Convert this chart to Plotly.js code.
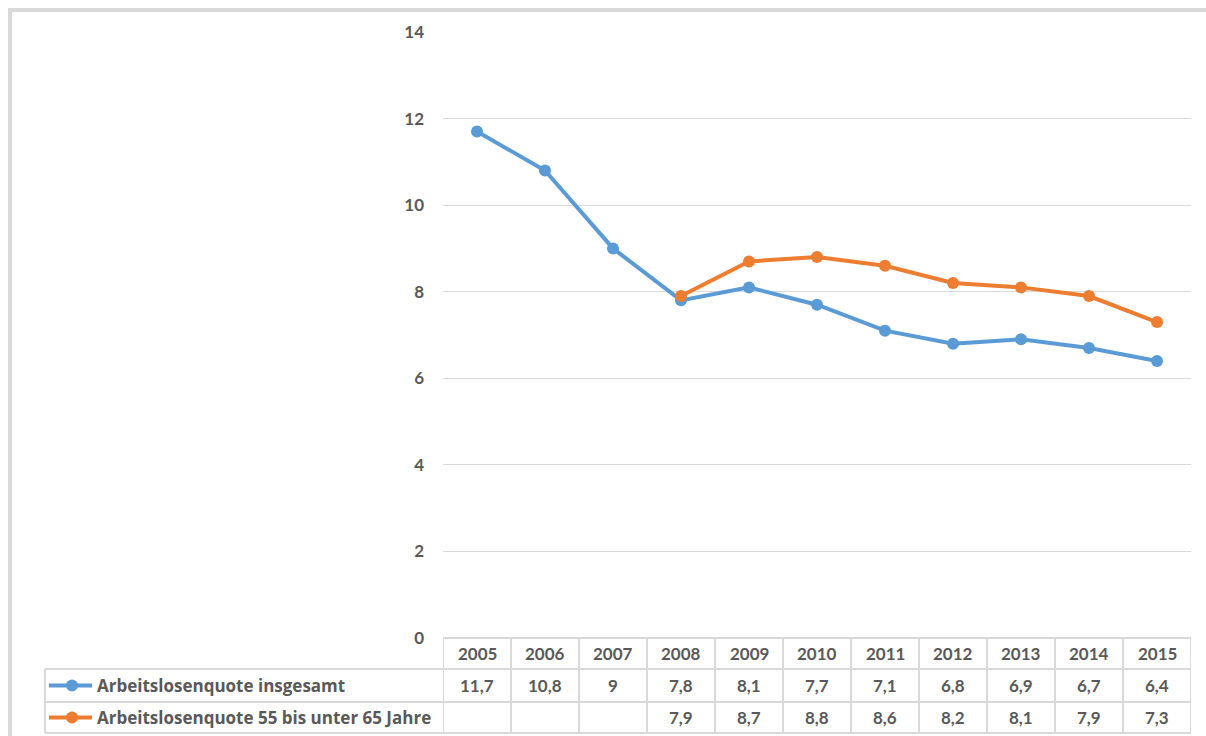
<!DOCTYPE html>
<html><head><meta charset="utf-8">
<script src="https://cdn.plot.ly/plotly-3.0.1.min.js"></script>
<style>html,body{margin:0;padding:0;background:#fff;}#chart{width:1206px;height:736px;}</style>
</head><body><div id="chart"></div>
<script>
const years = ['2005','2006','2007','2008','2009','2010','2011','2012','2013','2014','2015'];
const seriesNames = ['Arbeitslosenquote insgesamt','Arbeitslosenquote 55 bis unter 65 Jahre'];
const insgesamt = [11.7,10.8,9.0,7.8,8.1,7.7,7.1,6.8,6.9,6.7,6.4];
const aeltere = [null,null,null,7.9,8.7,8.8,8.6,8.2,8.1,7.9,7.3];
const colors = ['#5B9BD5','#ED7D31'];

// pixel helpers for layout geometry
const L=443, R=1191, T=32, B=638;
const W=R-L, H=B-T;
const px = p => (p-L)/W;
const py = p => (B-p)/H;
const idx = years.map((_,i)=>i);
const fmt = v => v==null ? '' : String(v).replace('.', ',');

const textColor = '#595959';
const gridColor = '#D9D9D9';
const fontFam = 'Lato, "Open Sans", sans-serif';

const traces = [insgesamt, aeltere].map((vals,k)=>({
  type:'scatter', mode:'lines+markers', x: idx, y: vals, name: seriesNames[k],
  line:{color:colors[k], width:4}, marker:{color:colors[k], size:12},
  connectgaps:false, showlegend:false, hoverinfo:'skip'
}));

const shapes = [];
const annotations = [];
// outer frame (gray border)
shapes.push({type:'rect', xref:'paper', yref:'paper', x0:px(10), x1:px(1240), y0:py(10), y1:py(760),
  line:{color:'#D9D9D9', width:4}, fillcolor:'rgba(0,0,0,0)', layer:'below'});

// table geometry
const rowY = [638, 669, 702, 733];
const legendLeft = 45;
shapes.push({type:'line', xref:'paper', yref:'paper', x0:px(L), x1:px(R), y0:py(rowY[0]), y1:py(rowY[0]), line:{color:gridColor, width:2}});
for (let r=1;r<rowY.length;r++){
  shapes.push({type:'line', xref:'paper', yref:'paper', x0:px(legendLeft), x1:px(R), y0:py(rowY[r]), y1:py(rowY[r]), line:{color:gridColor, width:2}});
}
for (let i=0;i<=years.length;i++){
  shapes.push({type:'line', xref:'x', yref:'paper', x0:i-0.5, x1:i-0.5, y0:py(rowY[0]), y1:py(rowY[3]), line:{color:gridColor, width:2}});
}
shapes.push({type:'line', xref:'paper', yref:'paper', x0:px(legendLeft), x1:px(legendLeft), y0:py(rowY[1]), y1:py(rowY[3]), line:{color:gridColor, width:2}});

const cellFont = {family:fontFam, size:17, color:textColor, weight:'bold'};
const legFont = {family:'"Open Sans", Lato, sans-serif', size:17, color:textColor, weight:'bold'};
years.forEach((yr,i)=>{
  annotations.push({xref:'x', yref:'paper', x:i, y:py((rowY[0]+rowY[1])/2), text:'<b>'+yr+'</b>', showarrow:false, font:cellFont, xanchor:'center', yanchor:'middle'});
});
[insgesamt, aeltere].forEach((vals,k)=>{
  const yc = py((rowY[k+1]+rowY[k+2])/2);
  vals.forEach((v,i)=>{
    if (v==null) return;
    annotations.push({xref:'x', yref:'paper', x:i, y:yc, text:'<b>'+fmt(v)+'</b>', showarrow:false, font:cellFont, xanchor:'center', yanchor:'middle'});
  });
  shapes.push({type:'line', xref:'paper', yref:'paper', x0:px(49), x1:px(92), y0:yc, y1:yc, line:{color:colors[k], width:4}});
  shapes.push({type:'circle', xref:'paper', yref:'paper', x0:px(66), x1:px(78), y0:yc-6/H, y1:yc+6/H, line:{color:colors[k], width:0}, fillcolor:colors[k]});
  annotations.push({xref:'paper', yref:'paper', x:px(95), y:yc, text:'<b>'+seriesNames[k]+'</b>', showarrow:false, font:legFont, xanchor:'left', yanchor:'middle'});
});

const layout = {
  width:1206, height:736,
  margin:{l:L, r:1206-R, t:T, b:736-B, pad:0},
  paper_bgcolor:'#fff', plot_bgcolor:'#fff',
  xaxis:{range:[-0.5, years.length-0.5], showticklabels:false, showgrid:false, zeroline:false, showline:false, ticks:'', fixedrange:true},
  yaxis:{range:[0,14], dtick:2, tick0:0, showgrid:true, gridcolor:gridColor, gridwidth:1, zeroline:false, showline:false, ticks:'',
    ticklabelstandoff:18, tickfont:{family:fontFam, size:17, color:textColor, weight:'bold'}, fixedrange:true},
  shapes, annotations, showlegend:false
};
Plotly.newPlot('chart', traces, layout, {staticPlot:true, displayModeBar:false});
</script></body></html>
